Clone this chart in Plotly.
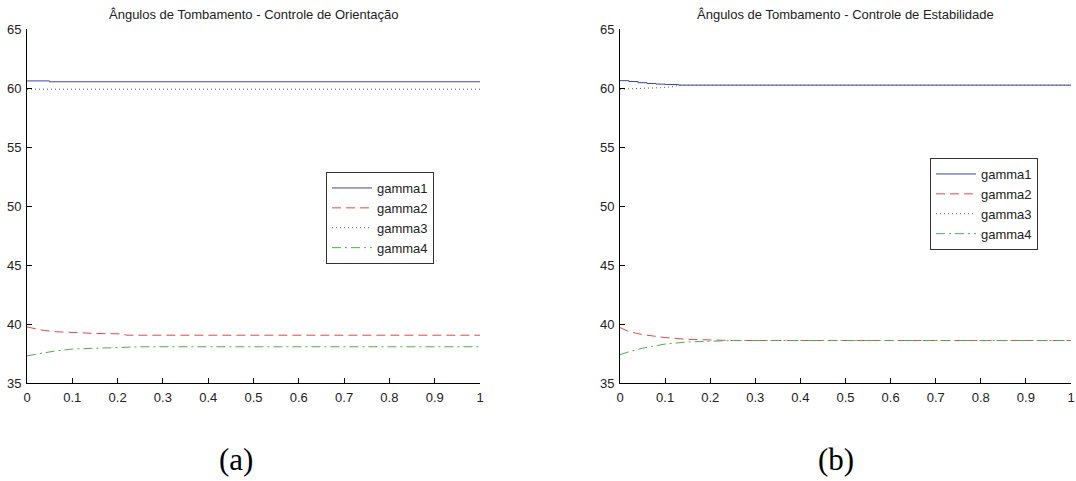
import plotly.graph_objects as go

W, H = 1076, 481

# ---- data: panel (a) Controle de Orientação ----
t_g1_a = [0, 0.05, 0.05, 1]
g1_a = [60.6, 60.6, 60.53, 60.53]
t_g2_a = [0, 0.03, 0.06, 0.1, 0.15, 0.21, 0.22, 1]
g2_a = [39.75, 39.5, 39.35, 39.27, 39.2, 39.16, 39.05, 39.05]
t_g3_a = [0, 1]
g3_a = [59.9, 59.9]
t_g4_a = [0, 0.03, 0.06, 0.1, 0.15, 0.2, 0.25, 1]
g4_a = [37.3, 37.5, 37.7, 37.88, 37.95, 38.0, 38.07, 38.07]

# ---- data: panel (b) Controle de Estabilidade ----
t_g1_b = [0, 0.02, 0.04, 0.06, 0.08, 0.1, 0.13, 1]
g1_b = [60.62, 60.55, 60.45, 60.38, 60.33, 60.3, 60.24, 60.24]
t_g2_b = [0, 0.02, 0.05, 0.1, 0.15, 0.2, 0.25, 1]
g2_b = [39.7, 39.35, 39.1, 38.85, 38.7, 38.63, 38.6, 38.6]
t_g3_b = [0, 0.03, 0.06, 0.09, 0.12, 0.13, 1]
g3_b = [59.9, 59.93, 59.97, 60.03, 60.12, 60.24, 60.24]
t_g4_b = [0, 0.02, 0.05, 0.1, 0.15, 0.2, 0.25, 1]
g4_b = [37.4, 37.65, 37.95, 38.3, 38.48, 38.56, 38.6, 38.6]

names = ["gamma1", "gamma2", "gamma3", "gamma4"]
titles = ["Ângulos de Tombamento - Controle de Orientação",
          "Ângulos de Tombamento - Controle de Estabilidade"]
panel_labels = ["(a)", "(b)"]
x_ticks = [0, 0.1, 0.2, 0.3, 0.4, 0.5, 0.6, 0.7, 0.8, 0.9, 1]
x_tick_text = ["0", "0.1", "0.2", "0.3", "0.4", "0.5", "0.6", "0.7", "0.8", "0.9", "1"]
y_ticks = [35, 40, 45, 50, 55, 60, 65]

colors = ["#3848a8", "#e34a4a", "#555555", "#4cb04c"]
dashes = ["solid", "9px,5px", "1px,3px", "9px,4px,2px,4px"]

fig = go.Figure()

series_a = [(t_g1_a, g1_a, "hv"), (t_g2_a, g2_a, "linear"), (t_g3_a, g3_a, "linear"), (t_g4_a, g4_a, "linear")]
series_b = [(t_g1_b, g1_b, "hv"), (t_g2_b, g2_b, "linear"), (t_g3_b, g3_b, "linear"), (t_g4_b, g4_b, "linear")]

for i, (t, v, shape) in enumerate(series_a):
    fig.add_trace(go.Scatter(x=t, y=v, mode="lines", name=names[i], line_shape=shape,
                             line=dict(color=colors[i], dash=dashes[i], width=1),
                             xaxis="x", yaxis="y", legend="legend"))
for i, (t, v, shape) in enumerate(series_b):
    fig.add_trace(go.Scatter(x=t, y=v, mode="lines", name=names[i], line_shape=shape,
                             line=dict(color=colors[i], dash=dashes[i], width=1),
                             xaxis="x2", yaxis="y2", legend="legend2"))

ytop = 1 - 29 / H
ybot = 1 - 383 / H
ax_common = dict(showline=True, linecolor="black", linewidth=1, ticks="inside", ticklen=5,
                 tickcolor="black", showgrid=False, zeroline=False, mirror=False,
                 automargin=False, ticklabelstandoff=2,
                 tickfont=dict(family="Liberation Sans", size=13, color="#222"))

leg_font = dict(family="Liberation Sans", size=13, color="#222")
fig.update_layout(
    width=W, height=H, margin=dict(l=0, r=0, t=0, b=0, autoexpand=False),
    paper_bgcolor="white", plot_bgcolor="white",
    showlegend=True,
    xaxis=dict(domain=[27 / W, 480 / W], range=[0, 1], tickvals=x_ticks, ticktext=x_tick_text,
               anchor="y", **ax_common),
    yaxis=dict(domain=[ybot, ytop], range=[35, 65], tickvals=y_ticks, anchor="x", **ax_common),
    xaxis2=dict(domain=[620 / W, 1071 / W], range=[0, 1], tickvals=x_ticks, ticktext=x_tick_text,
                anchor="y2", **ax_common),
    yaxis2=dict(domain=[ybot, ytop], range=[35, 65], tickvals=y_ticks, anchor="x2", **ax_common),
    legend=dict(x=326 / W, y=1 - 172 / H, xanchor="left", yanchor="top",
                bgcolor="white", bordercolor="#333", borderwidth=1,
                font=leg_font, itemwidth=40, tracegroupgap=0),
    legend2=dict(x=930 / W, y=1 - 158 / H, xanchor="left", yanchor="top",
                 bgcolor="white", bordercolor="#333", borderwidth=1,
                 font=leg_font, itemwidth=40, tracegroupgap=0),
)

title_x = [253.5 / W, 845.5 / W]
label_x = [236 / W, 836 / W]
for k in range(2):
    fig.add_annotation(x=title_x[k], y=1 - 14 / H, xref="paper", yref="paper", text=titles[k],
                       showarrow=False, xanchor="center", yanchor="middle",
                       font=dict(family="Liberation Sans", size=13, color="#222"))
    fig.add_annotation(x=label_x[k], y=1 - 459 / H, xref="paper", yref="paper", text=panel_labels[k],
                       showarrow=False, xanchor="center", yanchor="middle",
                       font=dict(family="Liberation Serif", size=31, color="black"))

fig.write_html("out.html", config={"displayModeBar": False},
               post_script="document.body.style.margin='0';document.body.style.overflow='hidden';")
